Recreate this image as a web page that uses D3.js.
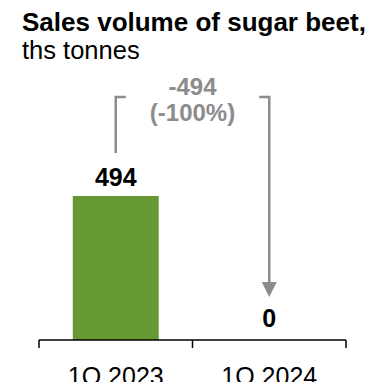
<!DOCTYPE html>
<html>
<head>
<meta charset="utf-8">
<script src="https://cdn.jsdelivr.net/npm/d3@7"></script>
<style>
  html, body { margin: 0; padding: 0; background: #fff; }
  svg { display: block; font-family: "Liberation Sans", Arial, sans-serif; }
</style>
</head>
<body>
<svg id="chart" width="375" height="382"></svg>
<script>
// Sales volume of sugar beet, thousand tonnes
const categories = ["1Q 2023", "1Q 2024"];
const values = [494, 0];
const changeLabel = ["-494", "(-100%)"];
const titleLines = ["Sales volume of sugar beet,", "ths tonnes"];

const W = 375, H = 382;
const svg = d3.select("#chart");

const x = d3.scaleBand()
  .domain(categories)
  .range([39, 346])
  .paddingInner(0.44)
  .paddingOuter(0.22);

const y = d3.scaleLinear()
  .domain([0, d3.max(values)])
  .range([340, 196]);

const gray = "#8c8c8c";
const green = "#669933";
const cx = c => x(c) + x.bandwidth() / 2;

// Title
svg.append("text")
  .attr("x", 22).attr("y", 31)
  .attr("font-size", 26).attr("font-weight", "bold").attr("fill", "#000")
  .text(titleLines[0]);
svg.append("text")
  .attr("x", 22).attr("y", 59)
  .attr("font-size", 25.5).attr("fill", "#000")
  .text(titleLines[1]);

// Bars
svg.append("g").selectAll("rect")
  .data(values)
  .join("rect")
  .attr("x", (d, i) => x(categories[i]))
  .attr("width", x.bandwidth())
  .attr("y", d => y(d))
  .attr("height", d => y(0) - y(d))
  .attr("fill", green);

// Value labels
svg.append("g").selectAll("text")
  .data(values)
  .join("text")
  .attr("x", (d, i) => cx(categories[i]))
  .attr("y", d => y(d) - (d > 0 ? 10 : 13))
  .attr("text-anchor", "middle")
  .attr("font-size", 25).attr("font-weight", "bold").attr("fill", "#000")
  .text(d => d3.format(",")(d));

// Axis: baseline with ticks at the band edges
const step = x.step();
const edges = [x(categories[0]) - step * x.paddingOuter()]
  .concat(categories.map(c => x(c) + x.bandwidth() + step * x.paddingInner() / 2));
edges[edges.length - 1] = x.range()[1];
const axis = svg.append("g").attr("stroke", "#000").attr("stroke-width", 1.5);
axis.append("line")
  .attr("x1", x.range()[0]).attr("x2", x.range()[1])
  .attr("y1", y(0)).attr("y2", y(0));
axis.selectAll("line.tick")
  .data(edges)
  .join("line")
  .attr("class", "tick")
  .attr("x1", d => d).attr("x2", d => d)
  .attr("y1", y(0)).attr("y2", y(0) + 8);

// Category labels
svg.append("g").selectAll("text")
  .data(categories)
  .join("text")
  .attr("x", d => cx(d))
  .attr("y", 385)
  .attr("text-anchor", "middle")
  .attr("font-size", 25).attr("fill", "#000")
  .text(d => d);

// Change bracket with arrow from first to second period
const topY = 97;
const x0 = cx(categories[0]), x1 = cx(categories[1]);
const startY = y(values[0]) - 43;
const tipY = y(values[1]) - 43;
const bracket = svg.append("g").attr("stroke", gray).attr("stroke-width", 2.5).attr("fill", "none");
bracket.append("path")
  .attr("d", `M${x0},${startY} V${topY} H${x0 + 10}`);
bracket.append("path")
  .attr("d", `M${x1 - 10},${topY} H${x1} V${tipY - 14}`);
svg.append("path")
  .attr("d", `M${x1 - 7.5},${tipY - 15} L${x1 + 7.5},${tipY - 15} L${x1},${tipY} Z`)
  .attr("fill", gray);

svg.append("text")
  .attr("x", (x0 + x1) / 2).attr("y", 95)
  .attr("text-anchor", "middle")
  .attr("font-size", 24).attr("font-weight", "bold").attr("fill", gray)
  .text(changeLabel[0]);
svg.append("text")
  .attr("x", (x0 + x1) / 2).attr("y", 121)
  .attr("text-anchor", "middle")
  .attr("font-size", 24).attr("font-weight", "bold").attr("fill", gray)
  .text(changeLabel[1]);
</script>
</body>
</html>
